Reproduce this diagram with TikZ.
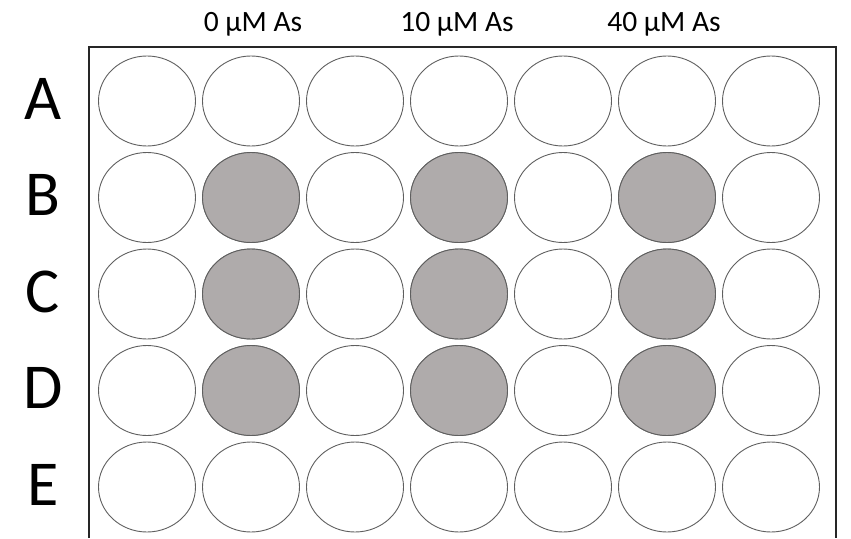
\documentclass[tikz,border=0pt]{standalone}
\usepackage{fontspec}
\setmainfont{Carlito}
\usepackage{xcolor}
\definecolor{wellfill}{RGB}{175,171,171}
\definecolor{wellline}{RGB}{95,95,95}

\begin{document}
\begin{tikzpicture}[x=1pt, y=-1pt,
    well/.style={draw=wellline, line width=0.9pt},
    rowlab/.style={anchor=base, font=\fontsize{64}{64}\selectfont, inner sep=0pt},
    collab/.style={anchor=base, font=\fontsize{29.5}{30}\selectfont, inner sep=0pt}]
\useasboundingbox (0,0) rectangle (851,538);

% plate outline (open at the bottom)
\draw[black!85, line width=1.3pt] (89,538) -- (89,47) -- (836,47) -- (836,538);

% row letters
\foreach \lab [count=\r from 0] in {A,B,C,D,E}{
  \pgfmathsetmacro{\yc}{101+96.5*\r}
  \node[rowlab] (row-\lab) at (43,\yc+18) {\lab};
}

% concentration labels
\node[collab] (conc-0)  at (253,31) {0 µM As};
\node[collab] (conc-10) at (457,31) {10 µM As};
\node[collab] (conc-40) at (664,31) {40 µM As};

% wells
\foreach \r in {0,...,4}{
  \foreach \c in {0,...,6}{
    \pgfmathsetmacro{\xc}{147+104*\c}
    \pgfmathsetmacro{\yc}{101+96.5*\r}
    \draw[well] (\xc,\yc) ellipse (48.5 and 45);
  }
}

% treated wells B--D
\foreach \r in {1,2,3}{
  \foreach \c in {1,3,5}{
    \pgfmathsetmacro{\xc}{147+104*\c}
    \pgfmathsetmacro{\yc}{101+96.5*\r}
    \draw[well, fill=wellfill] (\xc,\yc) ellipse (48.5 and 45);
  }
}

\end{tikzpicture}
\end{document}
